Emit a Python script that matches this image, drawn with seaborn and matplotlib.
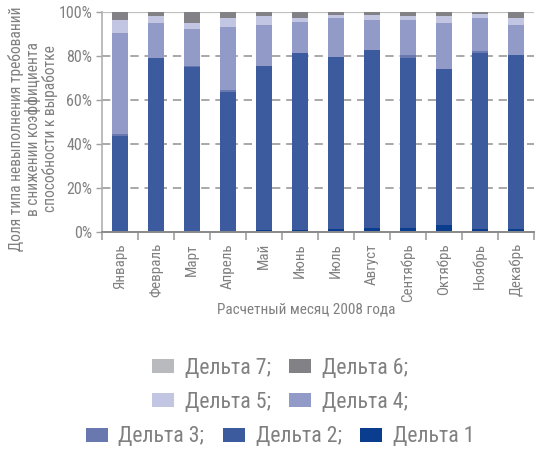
import matplotlib
matplotlib.use("Agg")
import matplotlib.pyplot as plt
from matplotlib.patches import Patch
from matplotlib import font_manager
import seaborn as sns
import numpy as np
import pandas as pd

months = ["Январь", "Февраль", "Март", "Апрель", "Май", "Июнь", "Июль",
          "Август", "Сентябрь", "Октябрь", "Ноябрь", "Декабрь"]
delta1 = [0.0, 0.0, 0.5, 0.5, 0.9, 0.9, 1.4, 1.8, 1.8, 3.2, 1.4, 1.4]
delta2 = [43.6, 79.1, 74.5, 63.1, 74.6, 80.5, 78.1, 80.9, 77.3, 70.9, 80.0, 79.1]
delta3 = [0.9, 0.0, 0.5, 0.9, 0.0, 0.0, 0.0, 0.0, 1.4, 0.0, 0.9, 0.0]
delta4 = [46.0, 15.9, 16.8, 28.7, 18.6, 14.1, 17.8, 13.7, 15.9, 20.9, 15.0, 13.6]
delta5 = [6.0, 3.2, 2.7, 4.1, 4.1, 1.8, 1.4, 2.3, 1.8, 3.2, 1.8, 3.2]
delta6 = [3.5, 1.8, 5.0, 2.7, 1.8, 2.7, 1.4, 1.4, 1.8, 1.8, 0.9, 2.7]
delta7 = [0.0] * 12
series_names = ["Дельта 1", "Дельта 2", "Дельта 3", "Дельта 4",
                "Дельта 5", "Дельта 6", "Дельта 7"]
colors = ["#0a3d8e", "#3c5a9e", "#6a78b0", "#929bc7", "#c3c6e3", "#828286", "#b9babe"]

sns.set_theme(style="white")

available = {f.name for f in font_manager.fontManager.ttflist}
stretch = "normal"
chosen = "Roboto"
for cand in ["Liberation Sans Narrow", "Roboto Condensed", "Open Sans Condensed"]:
    if cand in available:
        chosen = cand
        break
else:
    cond = [f for f in font_manager.fontManager.ttflist
            if f.name == "DejaVu Sans" and str(f.stretch) in ("condensed", "semi-condensed")]
    if cond:
        chosen = "DejaVu Sans"
        stretch = "condensed"
plt.rcParams['font.family'] = [chosen, 'DejaVu Sans']
plt.rcParams['font.stretch'] = stretch
TXT = "#808080"

series = [delta1, delta2, delta3, delta4, delta5, delta6, delta7]
raw = np.array(series, dtype=float)
totals = raw.sum(axis=0)
shares = raw / totals * 100.0
cum = np.cumsum(shares, axis=0)

fig = plt.figure(figsize=(5.35, 4.49), dpi=100)
W, H = 535, 449
ax = fig.add_axes([102 / W, 1 - 232 / H, 432 / W, 220 / H])

for yv in [20, 40, 60, 80]:
    ax.axhline(yv, color="#9a9a9a", lw=1.2, ls=(0, (5, 3.5)), zorder=0)
ax.axhline(100, color="#c0c0c0", lw=1.6, zorder=0)

for k in range(len(series) - 1, -1, -1):
    df = pd.DataFrame({"month": months, "value": cum[k]})
    sns.barplot(data=df, x="month", y="value", order=months, color=colors[k],
                saturation=1, width=0.42, ax=ax, zorder=2, linewidth=0,
                edgecolor="none")

ax.set_xlim(-0.5, 11.5)
ax.set_ylim(0, 100)
ax.set_yticks([0, 20, 40, 60, 80, 100])
ax.set_yticklabels(["0%", "20%", "40%", "60%", "80%", "100%"])
ax.set_xticks(range(12))
ax.set_xticklabels(months, rotation=90)
ax.set_xticks(np.arange(-0.5, 12, 1.0), minor=True)
ax.tick_params(axis="x", which="major", length=0, pad=8, labelsize=10.8, labelcolor=TXT)
ax.tick_params(axis="x", which="minor", length=6, width=1.2, color="#a0a0a0",
               direction="out", bottom=True)
ax.tick_params(axis="y", length=4, width=1, color="#a0a0a0", direction="out",
               left=True, labelsize=11.5, labelcolor=TXT, pad=3)
ax.set_xlabel("")
ax.set_ylabel("")
for s in ["top", "right"]:
    ax.spines[s].set_visible(False)
ax.spines["left"].set_color("#b0b0b0")
ax.spines["left"].set_linewidth(1.2)
ax.spines["bottom"].set_color("#8a8a8a")
ax.spines["bottom"].set_linewidth(1.4)
ax.spines["left"].set_zorder(3)
ax.spines["bottom"].set_zorder(3)

fig.text(306 / W, 1 - 310 / H, "Расчетный месяц 2008 года", ha="center",
         va="center", fontsize=11, color=TXT)
fig.text(33 / W, 1 - 129 / H,
         "Доля типа невыполнения требований\nв снижении коэффициента\nспособности к выработке",
         rotation=90, ha="center", va="center", fontsize=11.2, color=TXT,
         multialignment="center", linespacing=1.05)

rows = [([6, 5], 368), ([4, 3], 402), ([2, 1, 0], 437)]
for idx, yc in rows:
    labels = [series_names[i] + (";" if i != 0 else "") for i in idx]
    handles = [Patch(facecolor=colors[i], edgecolor="none") for i in idx]
    fig.legend(handles, labels, loc="center", bbox_to_anchor=(280 / W, 1 - yc / H),
               ncol=len(idx), frameon=False, fontsize=15.7, labelcolor=TXT,
               handlelength=1.0, handleheight=0.6, handletextpad=0.5,
               columnspacing=0.85, borderpad=0, borderaxespad=0)

fig.savefig("out.png", dpi=100)
